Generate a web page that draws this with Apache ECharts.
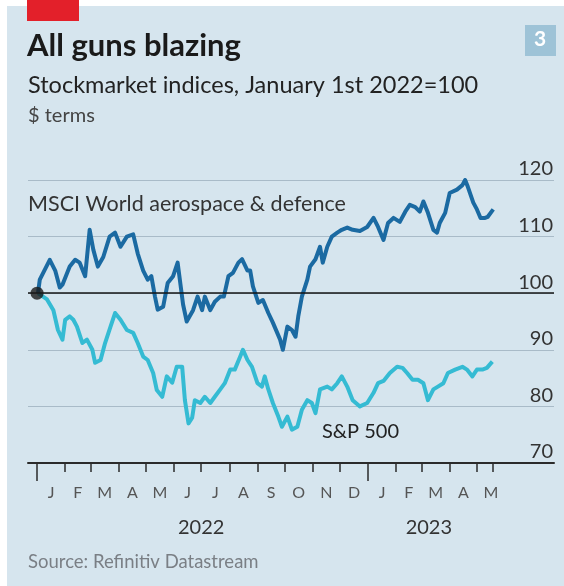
<!DOCTYPE html>
<html><head><meta charset="utf-8">
<script src="https://cdn.jsdelivr.net/npm/echarts@6/dist/echarts.min.js"></script>
<style>html,body{margin:0;padding:0;background:#fff;}#c{position:absolute;left:0;top:0;width:564px;height:586px;}</style>
</head><body><div id="c"></div>
<script>
// x values: days since 1 January 2022
const msciDays = [1,3,14,20,25,28,36,42,47,53,58,62,67,73,80,86,92,99,106,111,117,122,126,130,133,139,144,150,155,161,165,172,177,182,185,191,196,202,206,211,216,222,226,232,235,238,244,249,255,260,268,271,276,281,285,288,292,298,301,307,312,315,320,325,331,336,342,348,356,364,371,376,382,387,393,400,406,411,417,422,426,431,437,441,444,450,455,463,469,472,475,481,485,489,494,497,503];
const msciValues = [100,102.4,105.9,104,101,101.5,104.7,105.9,105.4,103,111.2,107.7,104.7,106.4,110,110.7,108.2,110,110.4,107,104,102.4,103,99.4,97.1,97.6,101.8,103,105.4,98,95,97,99.4,97,99.4,97,98.5,99.4,99.4,103,103.6,105.4,106,104,104,101.2,98.3,98.8,96.5,94.8,91.8,90,94.1,93.5,92.3,95.9,99.4,102.4,104.7,106,108.2,105.4,108.2,110,110.7,111.2,111.6,111.2,111,111.7,113.3,111.7,109.4,112.4,113.3,112.6,114.4,115.6,115.2,114.4,116.2,114.2,111.2,110.7,112.4,114.2,117.7,118.3,119.1,120,118.8,116,114.8,113.3,113.3,113.5,114.8];
const spDays = [1,11,18,23,28,31,36,40,44,50,55,61,64,70,75,81,86,92,99,106,111,117,122,128,132,138,143,149,154,160,163,167,171,174,180,185,191,196,202,207,213,218,224,227,232,237,243,248,251,255,260,266,270,276,281,287,292,298,303,307,312,320,325,331,336,342,348,356,364,371,376,382,389,397,403,408,414,420,426,431,437,442,448,453,461,469,474,480,485,491,496,502];
const spValues = [100,98.9,97,93.5,91.8,95.3,95.9,95.3,94.1,91.2,91.8,90,87.7,88.2,91.2,94.1,96.5,95.3,93.5,93,91.2,88.8,88.2,85.9,82.9,81.7,85.3,84.2,87,87,81.1,77,78,81.1,80.6,81.7,80.6,81.7,83,84.1,86.5,86.5,88.8,90,88.2,87,84.1,83.5,85.3,83,80.6,78.2,76.4,78.2,75.9,76.4,79.4,81.1,80.6,78.8,83,83.5,83,84.1,85.3,83.5,81.1,80,80.6,82.4,84.1,84.5,85.9,87,86.8,85.9,84.7,84.7,84.1,81.1,83,83.5,84.1,85.9,86.5,87,86.5,85.3,86.5,86.5,86.8,87.9];
// month starts (days since 1 Jan 2022), month letters, year labels
const monthStarts = [0,31,59,90,120,151,181,212,243,273,304,334,365,396,424,455,485,516];
const monthLetters = ['J','F','M','A','M','J','J','A','S','O','N','D','J','F','M','A','M'];
const yearStarts = [0,365];
const yearLabels = ['2022','2023'];
const yearLabelPos = [181,432];
const dataEnd = 503;
const yTicks = [70,80,90,100,110,120];

const FONT = 'Lato';
const monthMid = monthLetters.map((m,i)=> (monthStarts[i]+monthStarts[i+1])/2);
const monthTicks = monthStarts.slice(1,17).filter(d=>yearStarts.indexOf(d)<0).concat([dataEnd]);
const toPairs = (xs,ys)=>xs.map((x,i)=>[x,ys[i]]);

const chart = echarts.init(document.getElementById('c'), null, {renderer:'canvas'});
chart.setOption({
  animation:false,
  backgroundColor:'#ffffff',
  grid:{left:28,right:10,top:180,bottom:123,containLabel:false},
  graphic:[
    {type:'rect',left:7,top:6,shape:{width:557,height:580},style:{fill:'#d6e5ee'},z:-10},
    {type:'rect',left:27,top:0,shape:{width:52,height:21},style:{fill:'#e3202a'}},
    {type:'rect',left:525,top:25,shape:{width:31,height:31},style:{fill:'#9ec3d7'}},
    {type:'text',left:534,top:29,style:{text:'3',fill:'#ffffff',font:'bold 21px '+FONT}},
    {type:'text',left:27,top:30,style:{text:'All guns blazing',fill:'#1a1a1a',font:'bold 31px '+FONT}},
    {type:'text',left:28,top:73,style:{text:'Stockmarket indices, January 1st 2022=100',fill:'#222',font:'23.5px '+FONT}},
    {type:'text',left:28,top:106,style:{text:'$ terms',fill:'#444',font:'20px '+FONT}},
    {type:'text',left:28,top:193,style:{text:'MSCI World aerospace & defence',fill:'#333',font:'21.5px '+FONT},z:20},
    {type:'text',left:322,top:422,style:{text:'S&P 500',fill:'#222',font:'20px '+FONT},z:20},
    {type:'text',left:28,top:553,style:{text:'Source: Refinitiv Datastream',fill:'#7a7f85',font:'18.5px '+FONT}}
  ],
  xAxis:[
    {type:'value',min:-10,max:570,position:'bottom',
     axisLine:{show:true,lineStyle:{color:'#2b2b2b',width:2}},
     axisTick:{show:true,customValues:monthTicks,length:9,lineStyle:{color:'#2b2b2b',width:1.5}},
     axisLabel:{show:true,customValues:monthMid,margin:22,color:'#555',fontFamily:FONT,fontSize:16,
       formatter:v=>{const i=monthMid.indexOf(v);return i>=0?monthLetters[i]:'';}},
     splitLine:{show:false}},
    {type:'value',min:-10,max:570,position:'bottom',offset:0,
     axisLine:{show:false},
     axisTick:{show:true,customValues:yearStarts,length:18,lineStyle:{color:'#2b2b2b',width:1.5}},
     axisLabel:{show:true,customValues:yearLabelPos,margin:55,color:'#333',fontFamily:FONT,fontSize:20,
       formatter:v=>{const i=yearLabelPos.indexOf(v);return i>=0?yearLabels[i]:'';}},
     splitLine:{show:false}}
  ],
  yAxis:{type:'value',position:'right',min:70,max:120,interval:10,
    axisLine:{show:false},axisTick:{show:false},
    axisLabel:{inside:true,margin:1,verticalAlign:'bottom',padding:[0,0,1,0],color:'#333',fontFamily:FONT,fontSize:20,
      formatter:v=>yTicks.indexOf(v)>=0?String(v):''},
    splitLine:{show:true,lineStyle:{color:'#a9bbc8',width:1}}},
  series:[
    {type:'line',data:[[0,100]],symbol:'none',z:1,silent:true,lineStyle:{width:0},
     markLine:{silent:true,symbol:'none',label:{show:false},lineStyle:{color:'#151515',width:1.6,type:'solid'},data:[{yAxis:100}]}},
    {name:'S&P 500',type:'line',data:toPairs(spDays,spValues),symbol:'none',z:3,
     lineStyle:{color:'#35bbd3',width:4,join:'round'}},
    {name:'MSCI',type:'line',data:toPairs(msciDays,msciValues),symbol:'none',z:4,
     lineStyle:{color:'#1b6aa2',width:4,join:'round'}},
    {type:'scatter',data:[[0,100]],symbolSize:13,z:6,itemStyle:{color:'#1a1a1a'}}
  ]
});
</script></body></html>
